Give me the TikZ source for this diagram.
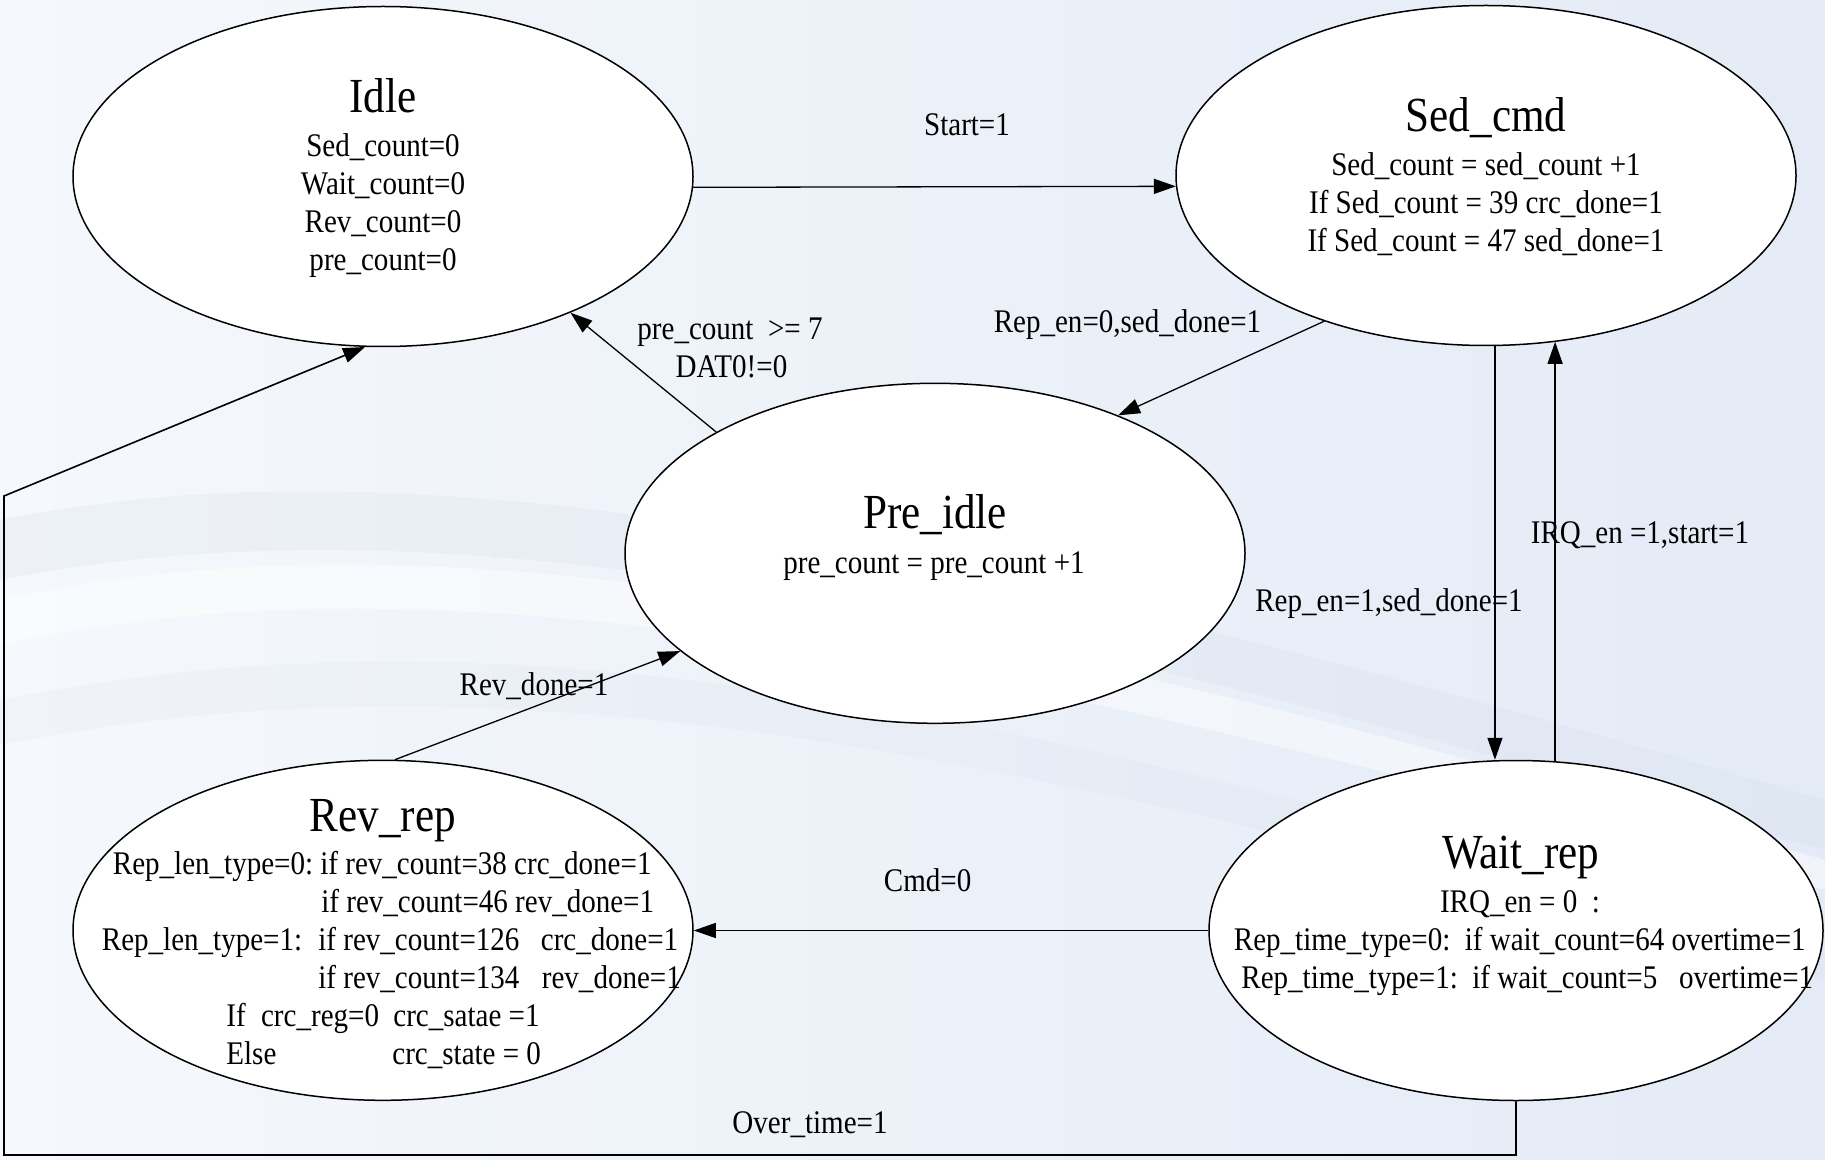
\documentclass[tikz,border=0pt]{standalone}
\usepackage{fontspec}
\setmainfont[FakeStretch=0.88]{Liberation Serif}
\usetikzlibrary{arrows.meta,shapes.geometric}
\definecolor{bgL}{RGB}{245,248,252}
\definecolor{bgR}{RGB}{228,235,246}
\definecolor{swgray}{RGB}{205,214,226}
\begin{document}
\begin{tikzpicture}[x=0.5pt,y=-0.5pt,
  state/.style={ellipse, draw, line width=0.75pt, fill=white, inner sep=0pt,
    minimum width=310pt, minimum height=170pt},
  title/.style={font=\fontsize{24.5}{28}\selectfont, inner sep=0pt, anchor=base},
  body/.style={font=\fontsize{16.5}{19}\selectfont, inner sep=0pt, anchor=base},
  bodyw/.style={body, anchor=base west},
  conn/.style={line width=0.65pt, -{Triangle[length=11pt,width=7.5pt]}}]
% background
\shade[left color=bgL, right color=bgR] (0,0) rectangle (1825,1160);
\useasboundingbox (0,0) rectangle (1825,1160);
\fill[swgray, opacity=0.18] (0,520) .. controls (450,430) and (1000,560) .. (1825,800)
  -- (1825,850) .. controls (1000,610) and (450,490) .. (0,580) -- cycle;
\fill[white, opacity=0.45] (0,600) .. controls (450,500) and (1000,620) .. (1825,860)
  -- (1825,890) .. controls (1000,660) and (450,545) .. (0,645) -- cycle;
\fill[swgray, opacity=0.12] (0,700) .. controls (500,600) and (1000,700) .. (1825,950)
  -- (1825,980) .. controls (1000,745) and (500,645) .. (0,745) -- cycle;

% states
\node[state] (Idle) at (383,176.5) {};
\node[state] (Sed) at (1486,175.5) {};
\node[state] (Pre) at (935,553.3) {};
\node[state] (Rev) at (383,930.3) {};
\node[state, minimum width=307pt] (Wait) at (1516,930.5) {};

% Idle text
\node[title] (tIdle) at (383,113) {Idle};
\node[body] (i1) at (383,157) {Sed\_count=0};
\node[body] (i2) at (383,195) {Wait\_count=0};
\node[body] (i3) at (383,233) {Rev\_count=0};
\node[body] (i4) at (383,271) {pre\_count=0};

% Sed_cmd text
\node[title] (tSed) at (1486,132) {Sed\_cmd};
\node[body] (s1) at (1486,176) {Sed\_count = sed\_count +1};
\node[body] (s2) at (1486,214) {If Sed\_count = 39 crc\_done=1};
\node[body] (s3) at (1486,252) {If Sed\_count = 47 sed\_done=1};

% Pre_idle text
\node[title] (tPre) at (935,528) {Pre\_idle};
\node[body] (p1) at (934,573) {pre\_count = pre\_count +1};

% Wait_rep text
\node[title] (tWait) at (1521,868) {Wait\_rep};
\node[body] (w1) at (1520,912) {IRQ\_en = 0~~:};
\node[bodyw] (w2) at (1233.5,950) {Rep\_time\_type=0:~~if wait\_count=64 overtime=1};
\node[bodyw] (w3) at (1241,988) {Rep\_time\_type=1:~~if wait\_count=5~~~overtime=1};

% Rev_rep text
\node[title] (tRev) at (383,831) {Rev\_rep};
\node[bodyw] (r1a) at (112.5,874) {Rep\_len\_type=0:};
\node[bodyw] (r1b) at (320,874) {if rev\_count=38 crc\_done=1};
\node[bodyw] (r2) at (321,912) {if rev\_count=46 rev\_done=1};
\node[bodyw] (r3a) at (101.5,950) {Rep\_len\_type=1:};
\node[bodyw] (r3b) at (318,950) {if rev\_count=126};
\node[bodyw] (r3c) at (540.5,950) {crc\_done=1};
\node[bodyw] (r4b) at (318,988) {if rev\_count=134};
\node[bodyw] (r4c) at (541.5,988) {rev\_done=1};
\node[bodyw] (r5a) at (226,1026) {If};
\node[bodyw] (r5b) at (260.7,1026) {crc\_reg=0};
\node[bodyw] (r5c) at (393,1026) {crc\_satae =1};
\node[bodyw] (r6a) at (226,1064) {Else};
\node[bodyw] (r6c) at (392,1064) {crc\_state = 0};

% transition labels
\node[body] (lStart) at (967,136) {Start=1};
\node[body] (lRep0) at (1127.5,332.5) {Rep\_en=0,sed\_done=1};
\node[body] (lPre1) at (730,340) {pre\_count~~>= 7};
\node[body] (lPre2) at (731.5,378) {DAT0!=0};
\node[body] (lRep1) at (1389,611.7) {Rep\_en=1,sed\_done=1};
\node[body] (lIRQ) at (1640,543) {IRQ\_en =1,start=1};
\node[body] (lCmd) at (927.6,891) {Cmd=0};
\node[body] (lRevd) at (534,695) {Rev\_done=1};
\node[body] (lOver) at (810,1133) {Over\_time=1};

% connectors
\coordinate (ob) at (4,1155);
\coordinate (ot) at (4,496);
\draw[conn] (Idle.-2.2) -- (Sed.182.4);
\draw[conn] (Sed.222.5) -- (Pre.37.5);
\draw[conn] (Pre.151) -- (Idle.-36.6);
\draw[conn] (Sed.-87.47) -- (Sed.-87.47 |- Wait.north);
\draw[conn] (Wait.77) -- (Wait.77 |- Sed.-67.4);
\draw[conn] (Wait.west) -- (Wait.west -| Rev.east);
\draw[conn] (Rev.86) -- (Pre.201.15);
\draw[conn, line width=0.8pt] (Wait.south) |- (ob) -- (ot) -- (Idle.-96.7);
\end{tikzpicture}
\end{document}
